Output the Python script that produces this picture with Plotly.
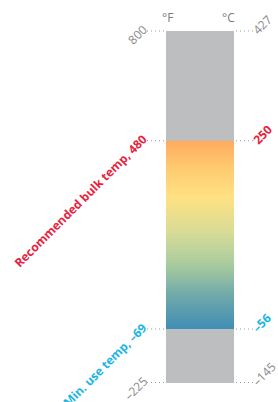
import plotly.graph_objects as go

# ---- data ----
scale_f = [800, 480, -69, -225]          # Fahrenheit tick values (top→bottom)
scale_c = [427, 250, -56, -145]          # Celsius equivalents
left_labels = ["800", "Recommended bulk temp, 480", "Min. use temp, \u201369", "\u2013225"]
right_labels = ["427", "250", "\u201356", "\u2013145"]
label_kinds = ["plain", "rec", "min", "plain"]
range_top, range_bottom = 800, -225
grad_top, grad_bottom = 480, -69

# ---- styles ----
GRAY_BAR = "#BDBEC0"
TXT_GRAY = "#8A8A8A"
RED = "#E8223C"
CYAN = "#19B5E3"
colors = {"plain": TXT_GRAY, "rec": RED, "min": CYAN}
bold = {"plain": False, "rec": True, "min": True}

W, H = 278, 402
px_top, px_bot = 31, 382.5
ppf = (px_bot - px_top) / (range_top - range_bottom)
y_hi = range_top + px_top / ppf
y_lo = range_bottom - (H - px_bot) / ppf

bar_c, bar_w = 200, 68
bx0, bx1 = bar_c - bar_w / 2, bar_c + bar_w / 2
lead_l = (147, 165)
lead_r = (236, 253)

fig = go.Figure()
fig.add_trace(go.Bar(x=[bar_c], y=[range_top - range_bottom], base=[range_bottom],
                     width=[bar_w], marker=dict(color=GRAY_BAR, line=dict(width=0)),
                     hoverinfo="skip"))
fig.add_trace(go.Scatter(
    x=[bx0, bx1, bx1, bx0, bx0],
    y=[grad_bottom, grad_bottom, grad_top, grad_top, grad_bottom],
    mode="lines", line=dict(width=0), fill="toself",
    fillgradient=dict(type="vertical", start=grad_bottom, stop=grad_top,
                      colorscale=[[0.0, "#408EB5"], [0.18, "#70A9AA"], [0.34, "#A8CB9F"],
                                  [0.52, "#D9DC95"], [0.70, "#FFE283"], [0.86, "#FFC96F"],
                                  [1.0, "#FFAA5E"]]),
    hoverinfo="skip"))

for fv in scale_f:
    for (a, b) in (lead_l, lead_r):
        fig.add_trace(go.Scatter(x=[a, b], y=[fv, fv], mode="lines",
                                 line=dict(color="#9A9A9A", width=1, dash="1px,3px"),
                                 hoverinfo="skip"))

ann = []
for fv, lt, rt, k in zip(scale_f, left_labels, right_labels, label_kinds):
    col = colors[k]
    fnt = dict(family="Open Sans", size=12, color=col, weight="bold" if bold[k] else "normal")
    ann.append(dict(x=lead_l[0], y=fv, xref="x", yref="y", text=lt, showarrow=False,
                    textangle=-45, xanchor="right", yanchor="top", xshift=4, yshift=10,
                    borderpad=0, borderwidth=0, font=fnt))
    ann.append(dict(x=lead_r[1], y=fv, xref="x", yref="y", text=rt, showarrow=False,
                    textangle=-45, xanchor="left", yanchor="bottom", xshift=-4, yshift=-7,
                    borderpad=0, borderwidth=0, font=fnt))

ann.append(dict(x=167, y=range_top, xref="x", yref="y", text="\u00b0F", showarrow=False,
                yanchor="bottom", yshift=3, font=dict(family="Open Sans", size=12, color="#7A7A7A")))
ann.append(dict(x=228, y=range_top, xref="x", yref="y", text="\u00b0C", showarrow=False,
                yanchor="bottom", yshift=3, font=dict(family="Open Sans", size=12, color="#7A7A7A")))

fig.update_layout(
    width=W, height=H, margin=dict(l=0, r=0, t=0, b=0),
    paper_bgcolor="white", plot_bgcolor="white", showlegend=False,
    annotations=ann,
    xaxis=dict(range=[0, W], visible=False, fixedrange=True),
    yaxis=dict(range=[y_lo, y_hi], visible=False, fixedrange=True),
    bargap=0,
)
fig.write_html("out.html", config={"displayModeBar": False},
               post_script="document.body.style.margin='0';document.body.style.overflow='hidden';")
